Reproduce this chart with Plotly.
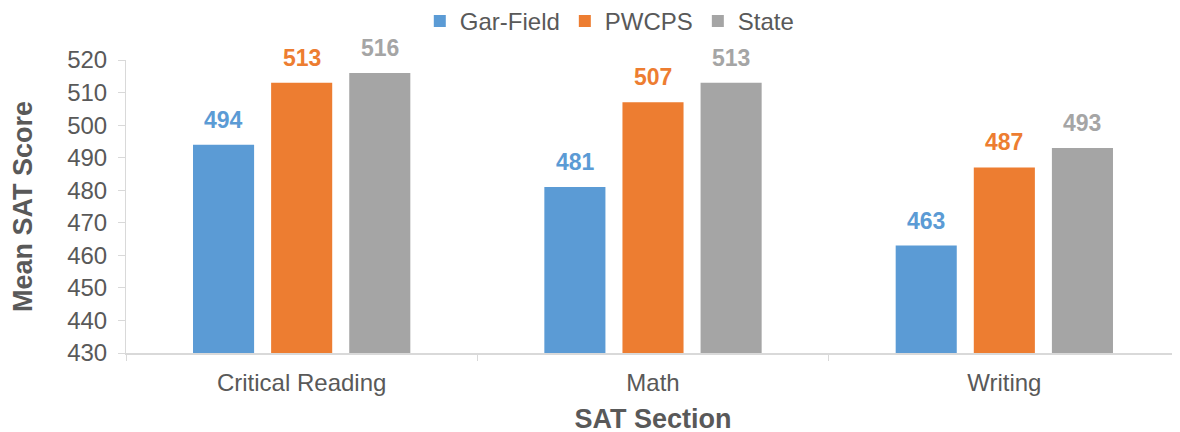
import plotly.graph_objects as go

categories = ["Critical Reading", "Math", "Writing"]
series_names = ["Gar-Field", "PWCPS", "State"]
gar_field = [494, 481, 463]
pwcps = [513, 507, 487]
state = [516, 513, 493]
y_ticks = [430, 440, 450, 460, 470, 480, 490, 500, 510, 520]

colors = ["#5b9bd5", "#ed7d31", "#a5a5a5"]
label_colors = ["#5b9bd5", "#ed7d31", "#a5a5a5"]
FONT = "Liberation Sans, Arial, sans-serif"
TXT = "#595959"

fig = go.Figure()
all_series = [gar_field, pwcps, state]
for name, vals, c in zip(series_names, all_series, colors):
    fig.add_trace(go.Bar(x=categories, y=vals, name=name, marker=dict(color=c, line=dict(width=0))))

annotations = []
for i, (vals, lc) in enumerate(zip(all_series, label_colors)):
    for cat, v in zip(categories, vals):
        annotations.append(dict(
            x=cat, y=v, xref="x", yref="y", text=f"<b>{v}</b>", showarrow=False,
            xshift=(i - 1) * 78, yanchor="middle", yshift=25,
            font=dict(family=FONT, size=23, color=lc)))

fig.update_layout(
    width=1180, height=432,
    margin=dict(l=118, r=8, t=52, b=87, autoexpand=False),
    paper_bgcolor="white", plot_bgcolor="white",
    barmode="group", bargap=0.333, bargroupgap=0.218,
    font=dict(family=FONT, size=24, color=TXT),
    legend=dict(orientation="h", xref="container", yref="paper",
                x=0.51, xanchor="center", y=1.132, yanchor="middle",
                font=dict(size=24, color=TXT), itemwidth=30, tracegroupgap=0,
                borderwidth=0),
    annotations=annotations,
)
fig.update_yaxes(
    range=[430, 520], tickvals=y_ticks, showgrid=False, zeroline=False,
    showline=True, linecolor="#d9d9d9", linewidth=1,
    ticks="outside", ticklen=7, tickcolor="#d9d9d9", ticklabelstandoff=6,
    tickfont=dict(size=24, color=TXT),
    title=dict(text="<b>Mean SAT Score</b>", font=dict(size=27, color=TXT), standoff=35),
)
fig.update_xaxes(
    showgrid=False, showline=True, linecolor="#d9d9d9", linewidth=2,
    ticks="outside", tickson="boundaries", ticklen=6, tickcolor="#d9d9d9",
    ticklabelstandoff=7,
    tickfont=dict(size=24, color=TXT),
    title=dict(text="<b>SAT Section</b>", font=dict(size=27, color=TXT), standoff=14),
)

fig.write_html("out.html")
